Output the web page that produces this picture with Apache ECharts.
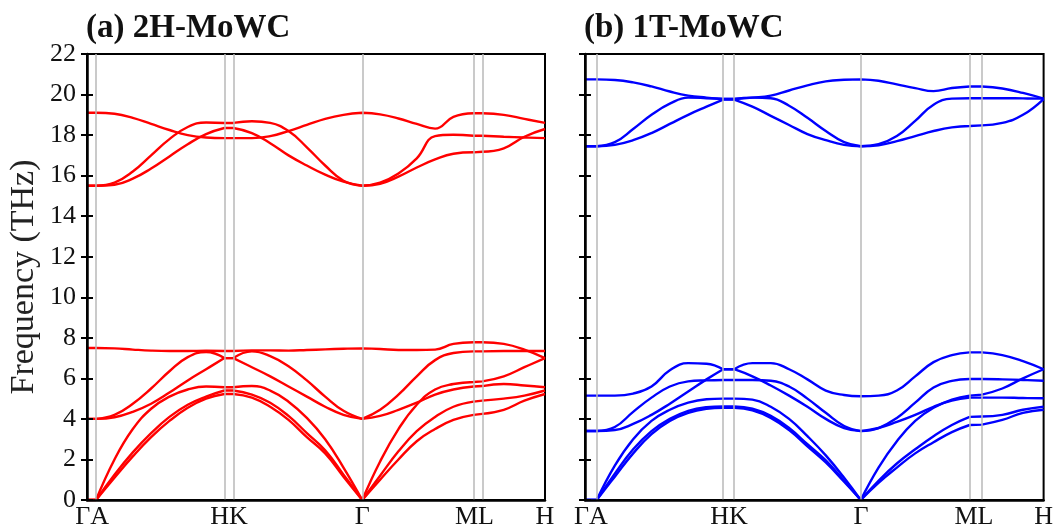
<!DOCTYPE html>
<html>
<head>
<meta charset="utf-8">
<script src="https://cdn.jsdelivr.net/npm/echarts@6/dist/echarts.min.js"></script>
<style>
html, body { margin: 0; padding: 0; background: #fff; }
#chart { width: 1056px; height: 530px; }
</style>
</head>
<body>
<div id="chart"></div>
<script>
// k-path positions (0..100 along the path) where the bands were sampled
const kLeft = [0, 1.97, 6, 10, 14, 18, 22, 26, 30, 31.95, 36, 40, 44, 48, 52, 56, 60.1, 64, 68, 72, 76, 80, 84.4, 86.3, 91, 95.5, 100]
const kRight = [0, 2.55, 6.5, 10.5, 14.5, 18.5, 22.5, 26.5, 30.13, 32.53, 36.5, 40.5, 44.5, 48.5, 52.5, 56.5, 60.13, 64, 68, 72, 76, 80, 83.88, 86.56, 91, 95.5, 100]
// indices of the inner high-symmetry points (A, H, K, Γ, M, L): bands restart there
const breakIdx = [1, 8, 9, 16, 22, 23]

// high-symmetry points (grey vertical lines)
const symLeft = [1.97, 30, 31.95, 60.1, 84.4, 86.3]
const symRight = [2.55, 30.13, 32.53, 60.13, 83.88, 86.56]

// x tick labels
const labelText = ['ΓA', 'HK', 'Γ', 'ML', 'H']
const labelPosLeft = [1.1, 31, 60.1, 84.6, 100]
const labelPosRight = [1.3, 31.4, 60.2, 84.8, 100]

// 2H-MoWC bands (THz)
const h2_za = [0, 0, 1.1, 2.15, 3.1, 3.9, 4.55, 5.0, 5.23, 5.23, 5.05, 4.6, 3.95, 3.1, 2.3, 1.15, 0, 1.0, 2.0, 2.9, 3.5, 3.95, 4.2, 4.25, 4.45, 4.9, 5.23]
const h2_ta = [0, 0, 1.25, 2.35, 3.3, 4.1, 4.7, 5.1, 5.4, 5.4, 5.2, 4.8, 4.15, 3.3, 2.45, 1.25, 0, 1.2, 2.4, 3.4, 4.1, 4.6, 4.85, 4.9, 5.0, 5.15, 5.4]
const h2_la = [0, 0, 2.0, 3.5, 4.5, 5.1, 5.45, 5.6, 5.56, 5.56, 5.62, 5.4, 4.85, 4.05, 3.0, 1.6, 0, 1.9, 3.5, 4.7, 5.45, 5.72, 5.82, 5.85, 6.1, 6.55, 7.0]
const h2_o1 = [4.0, 4.0, 4.08, 4.35, 4.75, 5.3, 5.9, 6.45, 7.0, 7.0, 6.55, 6.1, 5.6, 5.1, 4.6, 4.2, 4.0, 4.15, 4.45, 4.8, 5.2, 5.45, 5.6, 5.62, 5.72, 5.65, 5.56]
const h2_o2 = [4.0, 4.0, 4.2, 4.75, 5.5, 6.35, 7.05, 7.3, 7.0, 7.0, 7.33, 7.1, 6.6, 5.9, 5.1, 4.4, 4.0, 4.45, 5.2, 6.1, 6.9, 7.25, 7.33, 7.33, 7.35, 7.35, 7.35]
const h2_o3 = [7.5, 7.5, 7.48, 7.42, 7.37, 7.35, 7.35, 7.36, 7.35, 7.35, 7.38, 7.38, 7.37, 7.4, 7.43, 7.46, 7.48, 7.45, 7.4, 7.4, 7.42, 7.7, 7.78, 7.78, 7.7, 7.42, 7.0]
const h2_t1 = [19.1, 19.1, 19.05, 18.85, 18.55, 18.25, 18.0, 17.88, 17.85, 17.85, 17.85, 17.95, 18.2, 18.5, 18.8, 19.0, 19.1, 19.02, 18.82, 18.55, 18.32, 18.9, 19.08, 19.08, 19.0, 18.8, 18.6]
const h2_t2 = [15.5, 15.5, 15.65, 16.2, 17.0, 17.8, 18.4, 18.62, 18.6, 18.6, 18.68, 18.6, 18.2, 17.4, 16.5, 15.75, 15.5, 15.65, 16.1, 16.85, 17.95, 18.02, 17.97, 17.97, 17.92, 17.88, 17.85]
const h2_t3 = [15.5, 15.5, 15.55, 15.85, 16.35, 16.95, 17.55, 18.05, 18.35, 18.35, 18.1, 17.6, 17.0, 16.5, 16.05, 15.7, 15.5, 15.6, 15.95, 16.4, 16.8, 17.08, 17.15, 17.18, 17.35, 17.92, 18.3]

// 1T-MoWC bands (THz)
const t1_za = [0, 0, 1.15, 2.3, 3.25, 3.9, 4.3, 4.5, 4.55, 4.55, 4.42, 4.05, 3.45, 2.65, 1.85, 0.9, 0, 0.85, 1.6, 2.3, 2.85, 3.35, 3.7, 3.72, 3.95, 4.3, 4.45]
const t1_ta = [0, 0, 1.3, 2.5, 3.4, 4.0, 4.4, 4.58, 4.62, 4.62, 4.5, 4.15, 3.55, 2.75, 1.95, 0.95, 0, 0.95, 1.8, 2.5, 3.15, 3.7, 4.1, 4.12, 4.2, 4.45, 4.6]
const t1_la = [0, 0, 1.7, 3.0, 3.9, 4.45, 4.8, 4.97, 5.0, 5.0, 4.95, 4.6, 4.0, 3.15, 2.2, 1.1, 0, 1.6, 2.9, 3.9, 4.55, 4.95, 5.15, 5.2, 5.5, 6.0, 6.45]
const t1_o1 = [3.4, 3.4, 3.45, 3.75, 4.2, 4.75, 5.35, 5.95, 6.45, 6.45, 6.1, 5.65, 5.15, 4.6, 4.0, 3.55, 3.4, 3.55, 3.85, 4.2, 4.6, 4.9, 5.05, 5.05, 5.05, 5.03, 5.02]
const t1_o2 = [3.4, 3.4, 3.6, 4.35, 5.05, 5.6, 5.85, 5.9, 5.92, 5.92, 5.92, 5.88, 5.6, 5.0, 4.3, 3.65, 3.4, 3.55, 4.05, 4.8, 5.55, 5.88, 5.97, 5.97, 5.95, 5.92, 5.88]
const t1_o3 = [5.15, 5.15, 5.15, 5.25, 5.6, 6.4, 6.75, 6.72, 6.45, 6.45, 6.75, 6.75, 6.45, 5.95, 5.4, 5.18, 5.12, 5.15, 5.4, 6.1, 6.8, 7.15, 7.28, 7.28, 7.15, 6.85, 6.45]
const t1_t1 = [20.75, 20.75, 20.72, 20.6, 20.4, 20.15, 19.95, 19.85, 19.78, 19.78, 19.85, 19.95, 20.2, 20.45, 20.65, 20.73, 20.75, 20.68, 20.5, 20.32, 20.17, 20.32, 20.4, 20.4, 20.3, 20.08, 19.8]
const t1_t2 = [17.45, 17.45, 17.65, 18.3, 19.0, 19.55, 19.85, 19.82, 19.78, 19.78, 19.85, 19.82, 19.45, 18.85, 18.2, 17.65, 17.45, 17.55, 17.95, 18.7, 19.5, 19.8, 19.82, 19.82, 19.82, 19.81, 19.8]
const t1_t3 = [17.45, 17.45, 17.52, 17.75, 18.1, 18.55, 19.0, 19.4, 19.75, 19.75, 19.4, 18.95, 18.5, 18.05, 17.75, 17.52, 17.45, 17.5, 17.7, 17.95, 18.2, 18.38, 18.45, 18.48, 18.6, 19.0, 19.78]

const bandsLeft = [h2_za, h2_ta, h2_la, h2_o1, h2_o2, h2_o3, h2_t1, h2_t2, h2_t3]
const bandsRight = [t1_za, t1_ta, t1_la, t1_o1, t1_o2, t1_o3, t1_t1, t1_t2, t1_t3]

const FONT = 'Liberation Serif, Times New Roman, serif'

// one band -> [k, f] pairs, broken at each high-symmetry point
function bandData(k, vals) {
  const out = []
  k.forEach((x, i) => {
    out.push([x, vals[i]])
    if (breakIdx.includes(i)) out.push([x, '-'], [x, vals[i]])
  })
  return out
}

function makeX(gridIndex, pos) {
  return {
    gridIndex, type: 'value', min: 0, max: 100, z: 5,
    axisLine: { show: true, onZero: false, lineStyle: { color: '#000', width: 2.5 } },
    axisTick: { show: false },
    splitLine: { show: false },
    axisLabel: {
      customValues: pos,
      formatter: v => labelText[pos.indexOf(v)] || '',
      fontFamily: FONT, fontSize: 26, color: '#111', margin: 4,
    },
  }
}

function makeY(gridIndex, inside, withLabel) {
  return {
    gridIndex, type: 'value', position: 'left', min: 0, max: 22, interval: 2, z: 5,
    axisLine: { show: !inside, onZero: false, lineStyle: { color: '#000', width: 2.5 } },
    axisTick: { show: true, inside, length: 6, lineStyle: { color: '#000', width: 2 } },
    splitLine: { show: false },
    axisLabel: { show: withLabel, fontFamily: FONT, fontSize: 26, color: '#111', margin: 11 },
    name: withLabel ? 'Frequency (THz)' : '',
    nameLocation: 'middle', nameGap: 46, nameRotate: 90,
    nameTextStyle: { fontFamily: FONT, fontSize: 34, color: '#222' },
  }
}

function panelSeries(k, bands, syms, color, xi, yi) {
  const list = [{
    type: 'line', xAxisIndex: xi, yAxisIndex: yi, data: [[0, '-']], symbol: 'none', silent: true, z: 1,
    markLine: {
      silent: true, symbol: ['none', 'none'], label: { show: false },
      lineStyle: { color: '#b8b8b8', width: 1.5, type: 'solid' },
      data: syms.map(x => ({ xAxis: x })),
    },
  }]
  bands.forEach(b => {
    list.push({
      type: 'line', xAxisIndex: xi, yAxisIndex: yi, data: bandData(k, b),
      symbol: 'none', smooth: 0.45, connectNulls: false, z: 3,
      lineStyle: { color, width: 2.4 },
    })
  })
  return list
}

const chart = echarts.init(document.getElementById('chart'))
chart.setOption({
  animation: false,
  backgroundColor: '#fff',
  title: [
    { text: '(a) 2H-MoWC', left: 81, top: 7, textStyle: { fontFamily: FONT, fontWeight: 'bold', fontSize: 33, color: '#111' } },
    { text: '(b) 1T-MoWC', left: 579, top: 7, textStyle: { fontFamily: FONT, fontWeight: 'bold', fontSize: 33, color: '#111' } },
  ],
  grid: [
    { left: 87, right: 511, top: 54, bottom: 30, show: true, borderColor: '#000', borderWidth: 2 },
    { left: 585, right: 12, top: 54, bottom: 30, show: true, borderColor: '#000', borderWidth: 2 },
  ],
  xAxis: [makeX(0, labelPosLeft), makeX(1, labelPosRight)],
  yAxis: [makeY(0, false, true), makeY(0, true, false), makeY(1, false, false), makeY(1, true, false)],
  series: [
    ...panelSeries(kLeft, bandsLeft, symLeft, '#ff0000', 0, 0),
    ...panelSeries(kRight, bandsRight, symRight, '#0000ff', 1, 2),
  ],
})
</script>
</body>
</html>
